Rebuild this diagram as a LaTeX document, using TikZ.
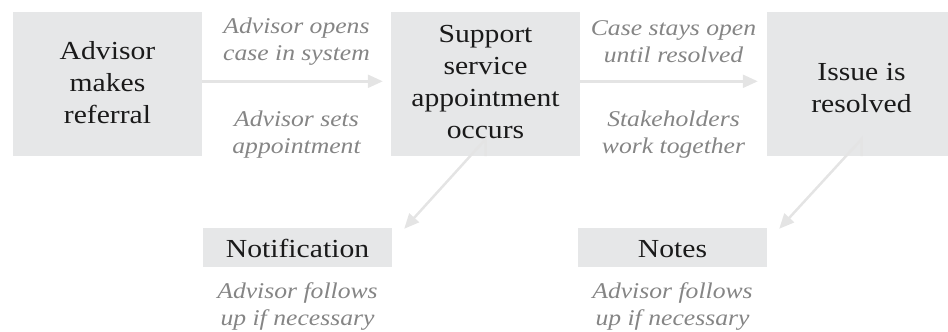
\documentclass[tikz,border=0pt]{standalone}
\usepackage{fontspec}
\setmainfont[FakeStretch=1.14]{Liberation Serif}
\usetikzlibrary{arrows.meta,calc}
\definecolor{boxfill}{HTML}{E6E7E8}
\definecolor{linegray}{HTML}{E4E4E4}
\definecolor{labgray}{HTML}{858585}
\definecolor{maintext}{HTML}{1A1A1A}
\newcommand{\bxt}[2]{\raisebox{#1}[\height][\depth]{\begin{tabular}{@{}c@{}}#2\end{tabular}}}
\tikzset{
  box/.style={fill=boxfill, draw=none, minimum width=189pt, inner sep=0pt, align=center,
    text=maintext, font=\fontsize{26}{32}\selectfont},
  bigbox/.style={box, minimum height=144pt},
  smallbox/.style={box, minimum height=39pt},
  lab/.style={align=center, text=labgray, inner sep=0pt,
    font=\fontsize{22.5}{27}\selectfont\itshape},
  conn/.style={draw=linegray, line width=2.5pt, -{Triangle[length=15pt,width=13pt]}},
}
\begin{document}
\begin{tikzpicture}[x=1pt,y=-1pt]
\useasboundingbox (0,0) rectangle (948,332);
\clip (0,0) rectangle (948,332);
\node[bigbox] (b1) at (107.5,84) {\bxt{-0.6pt}{Advisor\\makes\\referral}};
\node[bigbox] (b2) at (485.5,84) {\bxt{0.4pt}{Support\\service\\appointment\\occurs}};
\node[bigbox] (b3) at (861.5,84) {\bxt{-5.6pt}{Issue is\\resolved}};
\node[smallbox] (n1) at (297.5,247.5) {\bxt{-4pt}{Notification}};
\node[smallbox] (n2) at (672.5,247.5) {\bxt{-4pt}{Notes}};

\node[lab] (l1) at (296.5,42) {Advisor opens\\case in system};
\node[lab] (l2) at (296.5,134.5) {Advisor sets\\appointment};
\node[lab] (l3) at (673.5,42) {Case stays open\\until resolved};
\node[lab] (l4) at (673.5,134.5) {Stakeholders\\work together};
\node[lab] (l5) at (297.5,306.5) {Advisor follows\\up if necessary};
\node[lab] (l6) at (672.5,306.5) {Advisor follows\\up if necessary};

\draw[conn] ([yshift=2.7]b1.east) -- ([xshift=-8,yshift=2.7]b2.west);
\draw[conn] ([yshift=2.7]b2.east) -- ([xshift=-9,yshift=2.7]b3.west);
\coordinate (k1) at ([yshift=17]b2.south);
\coordinate (k2) at ([yshift=17]b3.south);
\draw[conn] (b2.south) -- (k1) -- ([xshift=12,yshift=-1]n1.north east);
\draw[conn] (b3.south) -- (k2) -- ([xshift=12,yshift=-1]n2.north east);
\end{tikzpicture}
\end{document}
